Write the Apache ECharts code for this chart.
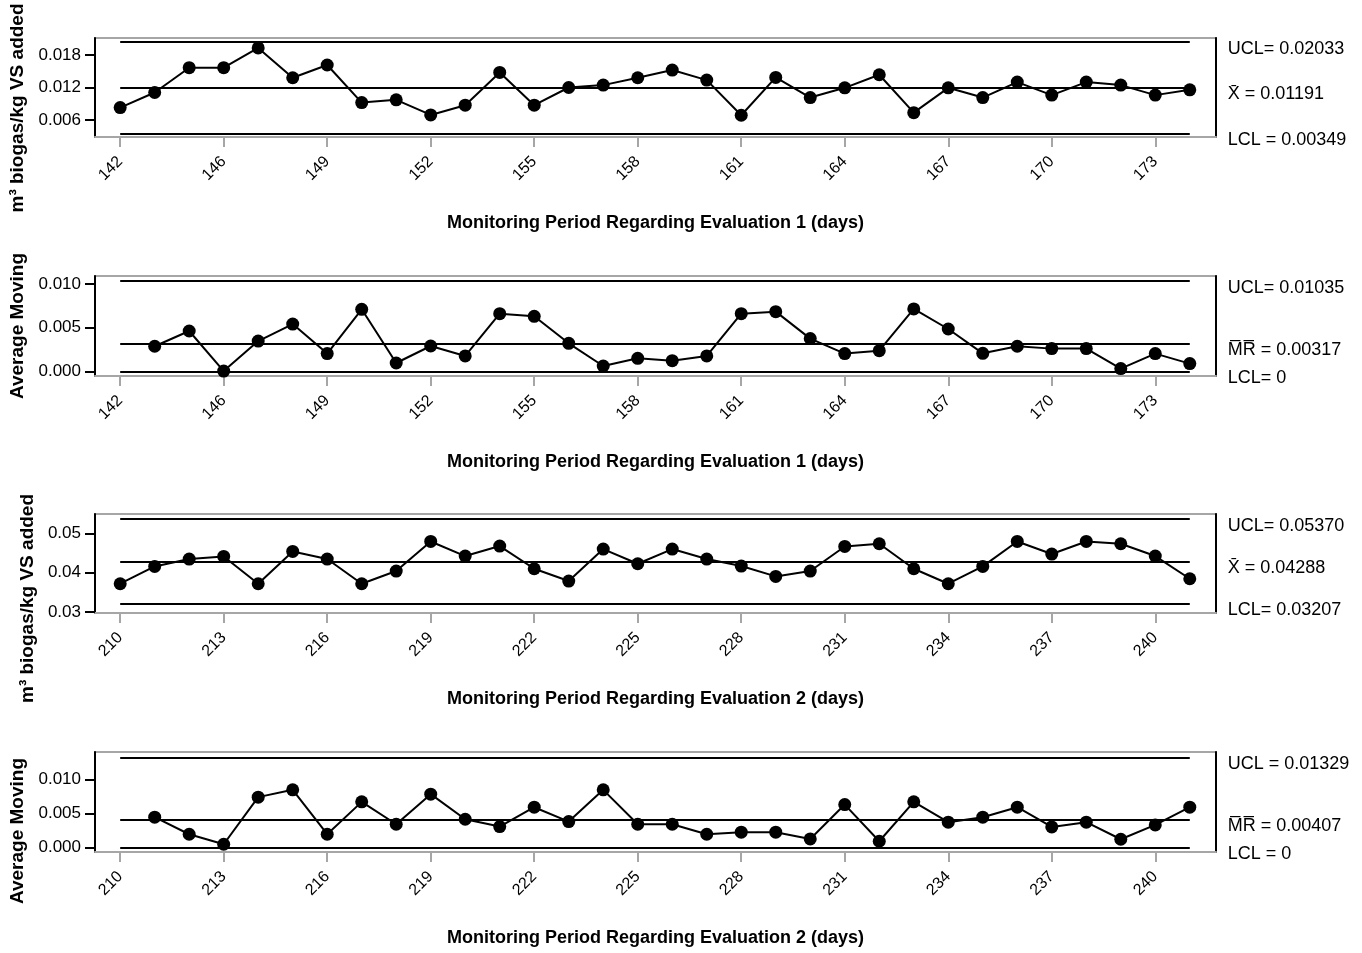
<!DOCTYPE html>
<html><head><meta charset="utf-8">
<script src="https://cdn.jsdelivr.net/npm/echarts@6/dist/echarts.min.js"></script>
<style>html,body{margin:0;padding:0;background:#fff}#c{width:1362px;height:953px}</style>
</head><body><div id="c"></div>
<script>
// ---------- data ----------
const days1 = [142,143,145,146,147,148,149,150,151,152,153,154,155,156,157,158,159,160,161,162,163,164,165,166,167,168,169,170,171,172,173,174];
const days2 = [210,211,212,213,214,215,216,217,218,219,220,221,222,223,224,225,226,227,228,229,230,231,232,233,234,235,236,237,238,239,240,241];
const tickIdx = [0,3,6,9,12,15,18,21,24,27,30];
const tickLabels1 = ['142','146','149','152','155','158','161','164','167','170','173'];
const tickLabels2 = ['210','213','216','219','222','225','228','231','234','237','240'];

const indiv1 = [0.00831,0.01108,0.01564,0.01564,0.01927,0.01379,0.01614,0.00923,0.00973,0.00696,0.00875,0.01477,0.00875,0.01200,0.01244,0.01379,0.01521,0.01336,0.00690,0.01385,0.01015,0.01194,0.01434,0.00738,0.01194,0.01015,0.01300,0.01060,0.01300,0.01244,0.01060,0.01158];
const mr1 = [null,0.00287,0.00462,0.00003,0.00347,0.00542,0.00203,0.00711,0.00095,0.00290,0.00176,0.00661,0.00631,0.00321,0.00061,0.00149,0.00122,0.00176,0.00661,0.00684,0.00375,0.00203,0.00237,0.00715,0.00485,0.00206,0.00287,0.00260,0.00260,0.00031,0.00203,0.00088];
const indiv2 = [0.03718,0.04160,0.04349,0.04415,0.03718,0.04543,0.04349,0.03718,0.04042,0.04798,0.04425,0.04681,0.04101,0.03787,0.04604,0.04229,0.04604,0.04349,0.04170,0.03905,0.04042,0.04671,0.04740,0.04101,0.03718,0.04160,0.04798,0.04477,0.04798,0.04740,0.04425,0.03846];
const mr2 = [null,0.00445,0.00193,0.00045,0.00742,0.00850,0.00193,0.00672,0.00341,0.00786,0.00415,0.00306,0.00593,0.00380,0.00850,0.00341,0.00341,0.00193,0.00223,0.00223,0.00123,0.00632,0.00089,0.00672,0.00371,0.00445,0.00593,0.00301,0.00371,0.00119,0.00331,0.00593];

const limits1 = [0.02033, 0.01191, 0.00349];
const limits2 = [0.01035, 0.00317, 0];
const limits3 = [0.05370, 0.04288, 0.03207];
const limits4 = [0.01329, 0.00407, 0];
const limitText1 = ['UCL= 0.02033', 'X\u0304 = 0.01191', 'LCL = 0.00349'];
const limitText2 = ['UCL= 0.01035', 'M\u0305R\u0305 = 0.00317', 'LCL= 0'];
const limitText3 = ['UCL= 0.05370', 'X\u0304 = 0.04288', 'LCL= 0.03207'];
const limitText4 = ['UCL = 0.01329', 'M\u0305R\u0305 = 0.00407', 'LCL = 0'];

const yTicks1 = [0.006, 0.012, 0.018];
const yTicks2 = [0, 0.005, 0.010];
const yTicks3 = [0.03, 0.04, 0.05];
const yTicks4 = [0, 0.005, 0.010];

const xTitle1 = 'Monitoring Period Regarding Evaluation 1 (days)';
const xTitle2 = 'Monitoring Period Regarding Evaluation 2 (days)';
const yTitleI = 'm\u00B3 biogas/kg VS added';
const yTitleMR = 'Average Moving';

// ---------- layout ----------
const FONT = 'Liberation Sans';
const panels = [
  {top:38,  height:99,  vals:indiv1, ticks:tickLabels1, lim:limits1, limTxt:limitText1, yT:yTicks1, dec:3, ymin:0.0029,   ymax:0.0211, xt:xTitle1, yt:yTitleI,  yPad:41},
  {top:276, height:100, vals:mr1,    ticks:tickLabels1, lim:limits2, limTxt:limitText2, yT:yTicks2, dec:3, ymin:-0.00054, ymax:0.01093, xt:xTitle1, yt:yTitleMR, yPad:0},
  {top:514, height:99,  vals:indiv2, ticks:tickLabels2, lim:limits3, limTxt:limitText3, yT:yTicks3, dec:2, ymin:0.0297,   ymax:0.0550, xt:xTitle2, yt:yTitleI,  yPad:70},
  {top:752, height:100, vals:mr2,    ticks:tickLabels2, lim:limits4, limTxt:limitText4, yT:yTicks4, dec:3, ymin:-0.0007,  ymax:0.0141, xt:xTitle2, yt:yTitleMR, yPad:58}
];

const grid = [], xAxis = [], yAxis = [], series = [];
panels.forEach((p, i) => {
  const n = p.vals.length;
  grid.push({left:95, width:1121, top:p.top, height:p.height, show:true, borderColor:'#a6a6a6', borderWidth:2, backgroundColor:'transparent'});
  xAxis.push({
    gridIndex:i, type:'value', min:-0.73, max:n - 1 + 0.76,
    axisLine:{show:true, onZero:false, lineStyle:{color:'#a6a6a6', width:2}},
    axisTick:{show:true, customValues:tickIdx, length:10, lineStyle:{color:'#a6a6a6', width:2}},
    axisLabel:{customValues:tickIdx, rotate:45, margin:22, color:'#000', fontSize:16, fontFamily:FONT,
      formatter:(v) => p.ticks[tickIdx.indexOf(Math.round(v))]},
    splitLine:{show:false},
    name:p.xt, nameLocation:'middle', nameGap:77,
    nameTextStyle:{color:'#000', fontWeight:'bold', fontSize:18, fontFamily:FONT}
  });
  yAxis.push({
    gridIndex:i, type:'value', min:p.ymin, max:p.ymax, position:'left',
    axisLine:{show:true, onZero:false, lineStyle:{color:'#000', width:2}},
    axisTick:{show:true, customValues:p.yT, length:10, lineStyle:{color:'#000', width:2}},
    axisLabel:{customValues:p.yT, margin:14, color:'#000', fontSize:17, fontFamily:FONT,
      formatter:(v) => v.toFixed(p.dec)},
    splitLine:{show:false},
    name:p.yt, nameLocation:'middle', nameGap:57,
    nameTextStyle:{color:'#000', fontWeight:'bold', fontSize:19, fontFamily:FONT, padding:[0,p.yPad,0,0]}
  });
  yAxis.push({
    gridIndex:i, type:'value', min:p.ymin, max:p.ymax, position:'right',
    axisLine:{show:true, onZero:false, lineStyle:{color:'#000', width:2}},
    axisTick:{show:false}, axisLabel:{show:false}, splitLine:{show:false}
  });
  const data = [];
  p.vals.forEach((v, k) => { if (v !== null) data.push([k, v]); });
  series.push({
    type:'line', xAxisIndex:i, yAxisIndex:2 * i, data,
    symbol:'circle', symbolSize:13, showSymbol:true,
    itemStyle:{color:'#000'}, lineStyle:{color:'#000', width:2},
    animation:false, z:3,
    markLine:{
      silent:true, symbol:'none', animation:false,
      lineStyle:{color:'#000', width:2, type:'solid'},
      label:{show:true, position:'end', distance:38, color:'#000', fontSize:18, fontFamily:FONT,
        formatter:(q) => '{t|' + q.name + '}',
        rich:{t:{color:'#000', fontSize:18, fontFamily:FONT, padding:[13,0,0,0]}}},
      emphasis:{disabled:true},
      data:p.lim.map((v, j) => [{coord:[0, v], name:p.limTxt[j]}, {coord:[n - 1, v]}])
    }
  });
});

const chart = echarts.init(document.getElementById('c'), null, {renderer:'canvas'});
chart.setOption({animation:false, backgroundColor:'#fff', grid, xAxis, yAxis, series});
</script>
</body></html>
